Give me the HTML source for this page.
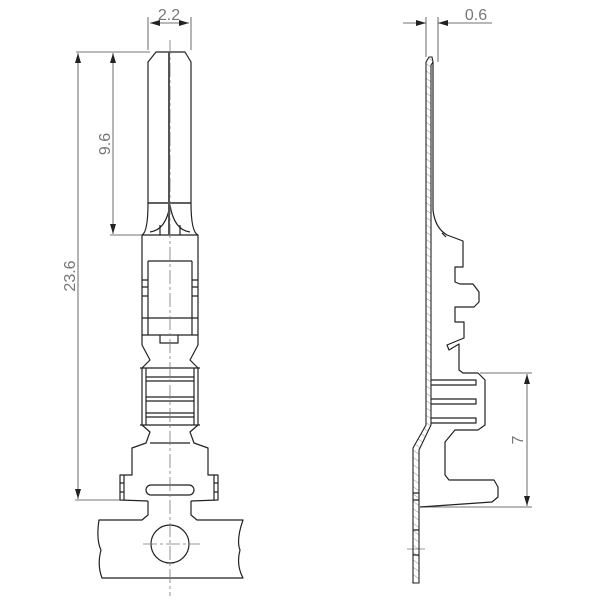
<!DOCTYPE html>
<html><head><style>html,body{margin:0;padding:0;background:#fff}svg{display:block}</style></head><body>
<svg width="603" height="600" viewBox="0 0 603 600" xmlns="http://www.w3.org/2000/svg">
<defs>
<pattern id="h" width="6" height="6" patternUnits="userSpaceOnUse" patternTransform="rotate(-55)"><line x1="0" y1="0" x2="0" y2="6" stroke="#777" stroke-width="0.8"/></pattern>
<marker id="a" viewBox="0 0 10 6" refX="10" refY="3" markerWidth="10" markerHeight="6" orient="auto-start-reverse" markerUnits="userSpaceOnUse"><path d="M0,0 L10,3 L0,6 Z" fill="#222"/></marker>
</defs>
<g fill="none" stroke="#222" stroke-width="1.2" stroke-linejoin="round">
<path d="M148,203 L148,62 L156,52 L185,52 L191,62 L191,203 Z"/>
<line x1="148" y1="203" x2="191" y2="203"/>
<path d="M148,203 Q148,232 142,235 M191,203 Q191,232 198,235"/>
<path d="M170,205 Q166,230 150,232 M170,205 Q174,230 190,232"/>
<line x1="160" y1="225" x2="160" y2="235"/><line x1="180" y1="225" x2="180" y2="235"/>
<path d="M142,235 L198,235 L198,335 L142,335 Z"/>
<path d="M148,261 L192,261 M148,261 L148,335 M192,261 L192,335 M142,318 L198,318"/>
<path d="M142,280 h6 M142,287 h6 M142,296 h6 M192,280 h6 M192,287 h6 M192,296 h6"/>
<path d="M160,335 v8 h18 v-8"/>
<path d="M142,335 L142,345 L150,360 L142,368 L142,425 L150,432 L146,443 L132,448 L132,475 L120,475 L120,500 L148,501"/>
<path d="M198,335 L198,345 L190,360 L198,368 L198,425 L190,432 L194,443 L208,448 L208,475 L218,475 L218,500 L191,501"/>
<path d="M146,368 L146,425 M194,368 L194,425 M140,368 h60 M140,425 h60"/>
<path d="M146,377 h48 M146,381 h48 M146,397 h48 M146,401 h48 M146,413 h48 M146,417 h48"/>
<path d="M124,475 v25 M214,475 v25 M120,483 h4 M120,492 h4 M214,483 h4 M214,492 h4"/>
<line x1="150" y1="443" x2="190" y2="443"/>
<rect x="146" y="485" width="48" height="10" rx="5"/>
<path d="M148,501 L148,515 L142,520 L99,520 Q96,540 101,550 Q97,565 102,578 L243,578 Q236,565 240,550 Q236,540 243,520 L197,520 L191,515 L191,501"/>
<circle cx="170" cy="544" r="19"/>
</g>
<g stroke="#777" stroke-width="0.8" fill="none">
<line x1="170" y1="40" x2="170" y2="596" stroke-dasharray="14,3,3,3"/>
<line x1="143" y1="544" x2="200" y2="544" stroke-dasharray="14,3,3,3"/>
<line x1="407" y1="549" x2="425" y2="549"/>
</g>
<line x1="169" y1="52" x2="169" y2="235" stroke="#555" stroke-width="2"/>
<g stroke="#444" stroke-width="0.8" fill="none">
<line x1="148" y1="50" x2="148" y2="17"/><line x1="191" y1="50" x2="191" y2="17"/>
<line x1="150" y1="23" x2="189" y2="23" marker-start="url(#a)" marker-end="url(#a)"/>
<line x1="76" y1="52" x2="150" y2="52"/><line x1="110" y1="235" x2="142" y2="235"/><line x1="75" y1="500" x2="120" y2="500"/>
<line x1="113" y1="53" x2="113" y2="234" marker-start="url(#a)" marker-end="url(#a)"/>
<line x1="78" y1="53" x2="78" y2="499" marker-start="url(#a)" marker-end="url(#a)"/>
<line x1="426" y1="57" x2="426" y2="17"/><line x1="438" y1="62" x2="438" y2="17"/>
<line x1="403" y1="23" x2="426" y2="23" marker-end="url(#a)"/><line x1="461" y1="23" x2="438" y2="23" marker-end="url(#a)"/>
<line x1="461" y1="23" x2="492" y2="23"/>
<line x1="480" y1="373" x2="532" y2="373"/><line x1="420" y1="507" x2="532" y2="507"/>
<line x1="527" y1="374" x2="527" y2="506" marker-start="url(#a)" marker-end="url(#a)"/>
</g>
<g font-family="Liberation Sans, sans-serif" font-size="16" fill="#777">
<text x="169" y="20" text-anchor="middle">2.2</text>
<text x="476" y="20" text-anchor="middle">0.6</text>
<text transform="translate(110,144) rotate(-90)" text-anchor="middle">9.6</text>
<text transform="translate(75,276) rotate(-90)" text-anchor="middle">23.6</text>
<text transform="translate(523,440) rotate(-90)" text-anchor="middle">7</text>
</g>
<path d="M426,425 L426,62 L429,57 L432,57 L433,62 L431,65 L431,425 L419,450 L419,583 L413,583 L413,448 Z" fill="url(#h)" stroke="#222" stroke-width="1.1"/>
<g fill="none" stroke="#222" stroke-width="1.2" stroke-linejoin="round">
<path d="M433,62 L433,210 Q435,228 447,235 L463,241 L463,267 L455,267 L455,282 L460,284 L473,284 L479,292 L479,302 L474,307 L455,307 L455,322 L464,322 L464,338 L447,345 L449,350 L459,344 L459,370 L463,373 L478,373 L485,380 L485,425 L478,430 L455,430 L445,442 L445,475 L449,480 L494,480 L498,487 L498,497 L492,502 L420,507"/>
<path d="M442,233 L446,237" />
<path d="M431,380 h45 v5 h-45 M431,399 h45 v5 h-45 M431,418 h45 v5 h-45"/>
<path d="M413,493 h6 M413,500 h6 M413,530 h6 M413,555 h6"/>
</g>
</svg>
</body></html>
